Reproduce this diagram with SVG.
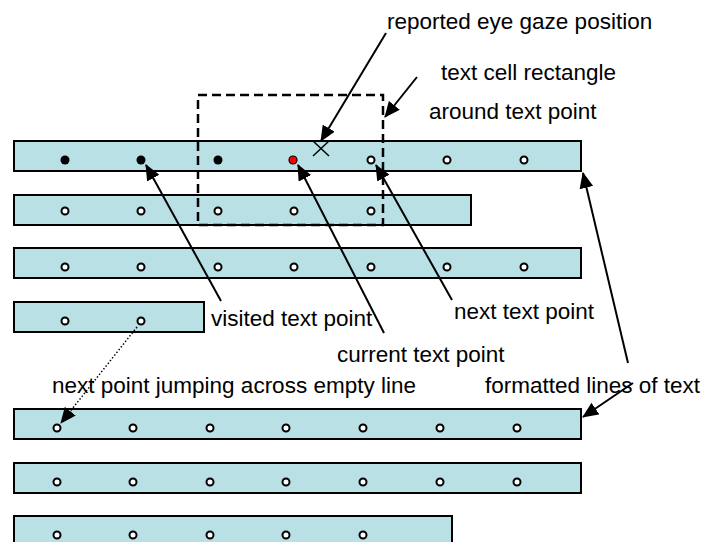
<svg xmlns="http://www.w3.org/2000/svg" width="705" height="542" viewBox="0 0 705 542">
<style>
.row{fill:#b9e0e4;stroke:#000;stroke-width:2}
.o{fill:#fff;stroke:#000;stroke-width:2}
.v{fill:#000}
.lbl{font-family:"Liberation Sans",Arial,sans-serif;font-size:22.5px;fill:#000}
.ar{stroke:#000;stroke-width:2;fill:none;marker-end:url(#ah)}
</style>
<defs>
<marker id="ah" markerUnits="userSpaceOnUse" markerWidth="16" markerHeight="14" viewBox="0 0 16 14" refX="15" refY="7" orient="auto">
<path d="M0,0 L16,7 L0,14 Z" fill="#000"/>
</marker>
<marker id="ahs" markerUnits="userSpaceOnUse" markerWidth="16" markerHeight="14" viewBox="0 0 16 14" refX="15" refY="7" orient="auto">
<path d="M0,0 L16,7 L0,14 Z" fill="#000"/>
</marker>
</defs>
<rect width="705" height="542" fill="#fff"/>
<g id="line1">
<rect class="row" x="14" y="141" width="567" height="30"/>
<circle class="v" cx="65" cy="160" r="4.5"/>
<circle class="v" cx="141" cy="160" r="4.5"/>
<circle class="v" cx="218" cy="160" r="4.5"/>
<circle cx="293" cy="160" r="4" fill="#f00" stroke="#000" stroke-width="1.2"/>
<circle class="o" cx="371" cy="160" r="3.5"/>
<circle class="o" cx="447" cy="160" r="3.5"/>
<circle class="o" cx="524" cy="160" r="3.5"/>
</g>
<g id="line2">
<rect class="row" x="14" y="195" width="457" height="30"/>
<circle class="o" cx="65" cy="211" r="3.5"/>
<circle class="o" cx="141" cy="211" r="3.5"/>
<circle class="o" cx="218" cy="211" r="3.5"/>
<circle class="o" cx="294" cy="211" r="3.5"/>
<circle class="o" cx="371" cy="211" r="3.5"/>
</g>
<g id="line3">
<rect class="row" x="14" y="248" width="567" height="30"/>
<circle class="o" cx="65" cy="267" r="3.5"/>
<circle class="o" cx="141" cy="267" r="3.5"/>
<circle class="o" cx="218" cy="267" r="3.5"/>
<circle class="o" cx="294" cy="267" r="3.5"/>
<circle class="o" cx="371" cy="267" r="3.5"/>
<circle class="o" cx="447" cy="267" r="3.5"/>
<circle class="o" cx="524" cy="267" r="3.5"/>
</g>
<g id="line4">
<rect class="row" x="14" y="302" width="190" height="30"/>
<circle class="o" cx="65" cy="321" r="3.5"/>
<circle class="o" cx="141" cy="321" r="3.5"/>
</g>
<g id="line5">
<rect class="row" x="14" y="409" width="567" height="30"/>
<circle class="o" cx="57" cy="428" r="3.5"/>
<circle class="o" cx="133" cy="428" r="3.5"/>
<circle class="o" cx="210" cy="428" r="3.5"/>
<circle class="o" cx="286" cy="428" r="3.5"/>
<circle class="o" cx="363" cy="428" r="3.5"/>
<circle class="o" cx="440" cy="428" r="3.5"/>
<circle class="o" cx="517" cy="428" r="3.5"/>
</g>
<g id="line6">
<rect class="row" x="14" y="463" width="567" height="30"/>
<circle class="o" cx="57" cy="482" r="3.5"/>
<circle class="o" cx="133" cy="482" r="3.5"/>
<circle class="o" cx="210" cy="482" r="3.5"/>
<circle class="o" cx="286" cy="482" r="3.5"/>
<circle class="o" cx="363" cy="482" r="3.5"/>
<circle class="o" cx="440" cy="482" r="3.5"/>
<circle class="o" cx="517" cy="482" r="3.5"/>
</g>
<g id="line7">
<rect class="row" x="14" y="516" width="438" height="30"/>
<circle class="o" cx="57" cy="535" r="3.5"/>
<circle class="o" cx="133" cy="535" r="3.5"/>
<circle class="o" cx="210" cy="535" r="3.5"/>
<circle class="o" cx="286" cy="535" r="3.5"/>
<circle class="o" cx="363" cy="535" r="3.5"/>
</g>
<g id="cell-rect">
<rect x="198" y="95" width="185" height="130" fill="none" stroke="#000" stroke-width="2.5" stroke-dasharray="9,5"/>
</g>
<g id="gaze">
<path d="M313,141 L329,156 M329,141 L313,156" stroke="#000" stroke-width="1.5" fill="none"/>
</g>
<g id="labels">
<text class="lbl" x="387" y="29">reported eye gaze position</text>
<text class="lbl" x="441" y="80">text cell rectangle</text>
<text class="lbl" x="429" y="119">around text point</text>
<text class="lbl" x="211" y="326">visited text point</text>
<text class="lbl" x="454" y="319">next text point</text>
<text class="lbl" x="337" y="362">current text point</text>
<text class="lbl" x="52" y="393">next point jumping across empty line</text>
<text class="lbl" x="485" y="393">formatted lines of text</text>
</g>
<g id="connectors">
<line class="ar" x1="386" y1="33" x2="321" y2="141"/>
<line class="ar" x1="417" y1="77" x2="385" y2="117"/>
<line class="ar" x1="221" y1="301" x2="146" y2="165"/>
<line class="ar" x1="384" y1="333" x2="298" y2="165"/>
<line class="ar" x1="452" y1="300" x2="376" y2="165"/>
<line class="ar" x1="628" y1="363" x2="583" y2="173"/>
<line class="ar" x1="633" y1="383" x2="583" y2="417"/>
<line x1="137" y1="327" x2="61" y2="423" stroke="#000" stroke-width="1.5" stroke-dasharray="1.5,2" marker-end="url(#ahs)"/>
</g>
</svg>
